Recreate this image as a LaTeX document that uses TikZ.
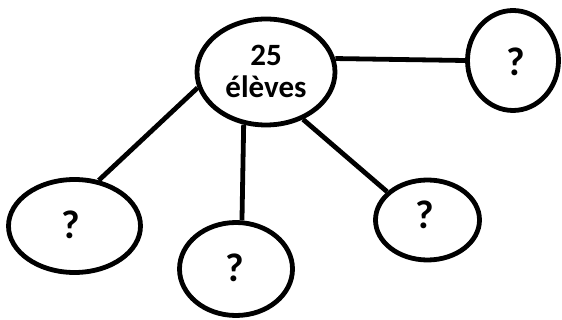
\documentclass[tikz,border=0pt]{standalone}
\usepackage{fontspec}
\setmainfont{Carlito}
\usetikzlibrary{shapes.geometric}
\begin{document}
\begin{tikzpicture}[x=1pt,y=-1pt,
  bubble/.style={ellipse,draw=black,line width=4.8pt,inner sep=0pt,fill=white},
  big/.style={font=\bfseries\fontsize{31}{32}\selectfont,align=center},
  qm/.style={font=\bfseries\fontsize{40}{42}\selectfont},
  link/.style={line width=4.8pt}]
\useasboundingbox (0,0) rectangle (562,320);
\node[bubble,minimum width=138pt,minimum height=106pt] (c) at (266,72) {};
\node[big] (ct) at (266,71) {25\\élèves};
\node[bubble,minimum width=91pt,minimum height=100pt] (r) at (513,60.5) {};
\node[qm] (rt) at (516,62) {?};
\node[bubble,minimum width=132pt,minimum height=93pt] (l) at (74.5,226) {};
\node[qm] (lt) at (71,225) {?};
\node[bubble,minimum width=113pt,minimum height=93pt] (b) at (236,269) {};
\node[qm] (bt) at (235,268) {?};
\node[bubble,minimum width=104pt,minimum height=80pt] (m) at (427.5,220) {};
\node[qm] (mt) at (425,215) {?};
\draw[link] (c.11) -- (r.west);
\draw[link] (c.193) -- (l.62);
\draw[link] (c.247) -- (b.83);
\draw[link] (c.308) -- (m.145);
\end{tikzpicture}
\end{document}
